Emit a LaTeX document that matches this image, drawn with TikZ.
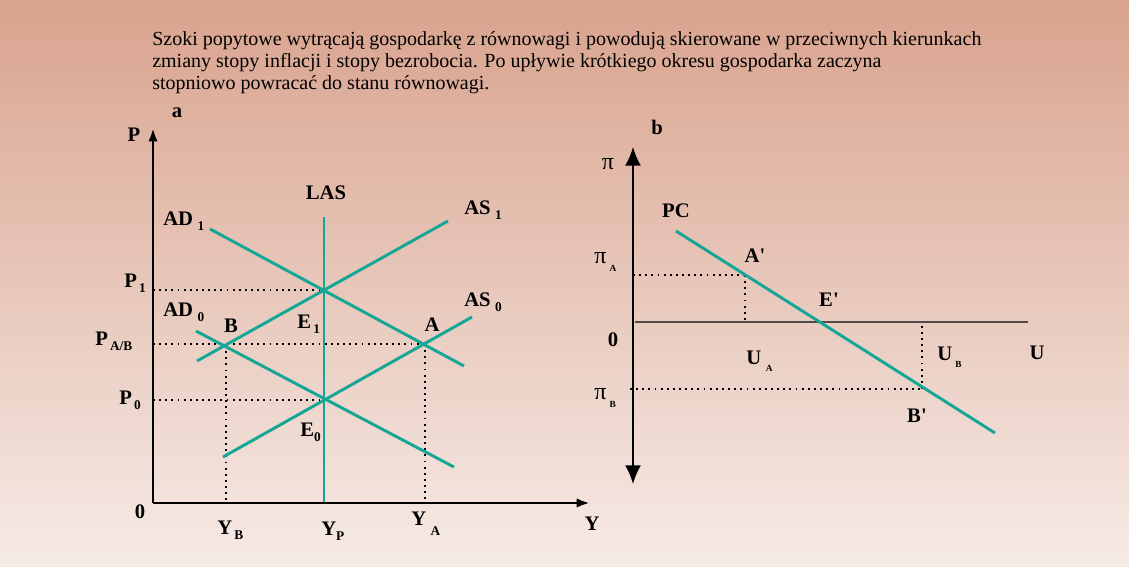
\documentclass[tikz,border=0pt]{standalone}
\usepackage{fontspec}
\setmainfont{Liberation Serif}
\usetikzlibrary{arrows.meta}

\definecolor{bgtop}{RGB}{217,163,142}
\definecolor{bgbot}{RGB}{246,235,230}
\definecolor{curvecol}{RGB}{22,166,150}
\definecolor{ulinecol}{RGB}{80,74,72}

\newcommand{\sub}[1]{\raisebox{-0.55ex}{\fontsize{10}{10}\selectfont\bfseries #1}}
\newcommand{\tinysub}[1]{\raisebox{-0.7ex}{\fontsize{7}{7}\selectfont\bfseries #1}}
\newcommand{\prm}{\textquotesingle}

\begin{document}
\begin{tikzpicture}[
  x=0.75pt, y=-0.75pt,
  curve/.style={draw=curvecol,line width=2.2pt},
  guide/.style={dash pattern=on 1.4pt off 3.2pt,line width=0.9pt},
  axisline/.style={line width=2.2pt,-{Latex[length=10pt,width=7pt]}},
  lbl/.style={font=\bfseries\fontsize{15.5}{15.5}\selectfont,inner sep=0pt},
  plain/.style={font=\fontsize{18}{18}\selectfont,inner sep=0pt}
]
  % background
  \shade[top color=bgtop,bottom color=bgbot] (0,0) rectangle (1129,567);
  \useasboundingbox (0,0) rectangle (1129,567);

  \node[anchor=north west,align=left,inner sep=0pt,
        font=\fontsize{15}{16.5}\selectfont] (title) at (152,31)
    {Szoki popytowe wytrącają gospodarkę z równowagi i powodują skierowane w przeciwnych kierunkach\\
     zmiany stopy inflacji i stopy bezrobocia. Po upływie krótkiego okresu gospodarka zaczyna\\
     stopniowo powracać do stanu równowagi.};

  % ---- panel a ----
  \coordinate (o) at (153,503);
  \coordinate (ptop) at (153,128);
  \coordinate (yend) at (590,503);
  \coordinate (lasT) at (324,217);
  \coordinate (lasB) at (324,503);
  \coordinate (as1L) at (197,361);
  \coordinate (as1R) at (448,221);
  \coordinate (as0L) at (223,457);
  \coordinate (as0R) at (472,317);
  \coordinate (ad1L) at (210,229);
  \coordinate (ad1R) at (464,366);
  \coordinate (ad0L) at (196,331);
  \coordinate (ad0R) at (454,467);
  \coordinate (e1) at (324,290);
  \coordinate (e0) at (324,400);
  \coordinate (ptA) at (425,344);
  \coordinate (ptB) at (226,345);
  \coordinate (p1) at (153,290);
  \coordinate (pab) at (153,344);
  \coordinate (p0) at (153,400);
  \coordinate (yb) at (226,500);
  \coordinate (ya) at (425,500);

  \draw[guide] (p1) -- (e1);
  \draw[guide] (pab) -- (ptA);
  \draw[guide] (p0) -- (e0);
  \draw[guide] (ptB) -- (yb);
  \draw[guide] (ptA) -- (ya);

  \draw[curve] (lasT) -- (lasB);
  \draw[curve] (as1L) -- (as1R);
  \draw[curve] (as0L) -- (as0R);
  \draw[curve] (ad1L) -- (ad1R);
  \draw[curve] (ad0L) -- (ad0R);

  \draw[axisline] (o) -- (ptop);
  \draw[axisline] (o) -- (yend);

  \node[lbl] (la) at (177,113) {a};
  \node[lbl] (lP) at (134,135) {P};
  \node[lbl] (lO) at (140,512) {0};
  \node[lbl] (lY) at (592,524) {Y};
  \node[lbl] (lLAS) at (326,193) {LAS};
  \node[lbl,anchor=west] (lP1) at (124,283) {P\sub{\,1}};
  \node[lbl,anchor=west] (lPab) at (95,341) {P\sub{\,A/B}};
  \node[lbl,anchor=west] (lP0) at (119,400) {P\sub{\,0}};
  \node[lbl,anchor=west] (lAD1) at (163,221) {AD\sub{\,\,1}};
  \node[lbl,anchor=west] (lAD0) at (163,312) {AD\sub{\,\,0}};
  \node[lbl,anchor=west] (lAS1) at (464,210) {AS\sub{\,\,1}};
  \node[lbl,anchor=west] (lAS0) at (464,302) {AS\sub{\,\,0}};
  \node[lbl] (lB) at (231,326) {B};
  \node[lbl] (lA) at (432,325) {A};
  \node[lbl,anchor=west] (lE1) at (297,324) {E\sub{\,1}};
  \node[lbl,anchor=west] (lE0) at (300,432) {E\sub{0}};
  \node[lbl,anchor=west] (lYB) at (217,530) {Y\sub{\,B}};
  \node[lbl,anchor=west] (lYP) at (321,531) {Y\sub{P}};
  \node[lbl,anchor=west] (lYA) at (411,524) {Y\raisebox{-1.1ex}{\fontsize{10}{10}\selectfont\bfseries\,\,A}};

  % ---- panel b ----
  \coordinate (pitop) at (633,147);
  \coordinate (pibot) at (633,484);
  \coordinate (uL) at (635,322);
  \coordinate (uR) at (1028,322);
  \coordinate (pcL) at (676,231);
  \coordinate (pcR) at (995,433);
  \coordinate (ap) at (745,275);
  \coordinate (ep) at (820,322);
  \coordinate (bp) at (922,389);
  \coordinate (piA) at (633,275);
  \coordinate (piB) at (630,389);
  \coordinate (uA) at (745,322);
  \coordinate (uB) at (922,322);

  \draw[line width=1.5pt,{Latex[length=14pt,width=12pt]}-{Latex[length=14pt,width=12pt]}] (pitop) -- (pibot);
  \draw[draw=ulinecol,line width=1.5pt] (uL) -- (uR);
  \draw[guide] (piA) -- (ap);
  \draw[guide] (ap) -- (uA);
  \draw[guide] (piB) -- (bp);
  \draw[guide] (bp) -- (uB);
  \draw[curve] (pcL) -- (pcR);

  \node[lbl] (lb) at (657,127) {b};
  \node[plain] (lpi) at (608,164) {π};
  \node[lbl] (lPC) at (676,211) {PC};
  \node[plain,anchor=west] (lpiA) at (594,262) {π\tinysub{\,\,A}};
  \node[lbl] (lAp) at (755,256) {A\prm};
  \node[lbl] (lEp) at (829,300) {E\prm};
  \node[lbl] (lO2) at (613,340) {0};
  \node[lbl,anchor=west] (lUA) at (746,361) {U\tinysub{\,\,\,A}};
  \node[lbl,anchor=west] (lUB) at (937,357) {U\tinysub{\,\,B}};
  \node[lbl] (lU) at (1037,353) {U};
  \node[plain,anchor=west] (lpiB) at (594,398) {π\tinysub{\,\,B}};
  \node[lbl] (lBp) at (917,416) {B\prm};
\end{tikzpicture}
\end{document}
